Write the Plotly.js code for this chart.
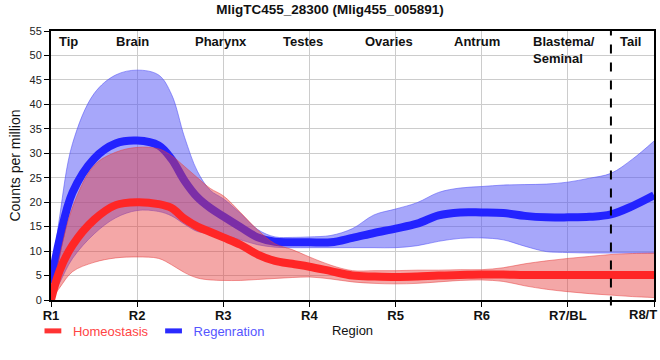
<!DOCTYPE html>
<html>
<head>
<meta charset="utf-8">
<script src="https://cdn.plot.ly/plotly-3.0.1.min.js"></script>
<style>html,body{margin:0;padding:0;background:#fff}#chart{width:660px;height:360px}</style>
</head>
<body>
<div id="chart"></div>
<script>
// Region positions (1 = R1 ... 8 = R8/T)
const xPos = [1, 1.1, 1.25, 1.5, 1.75, 2, 2.25, 2.4, 2.55, 2.7, 2.85, 3, 3.2, 3.4, 3.6, 3.8, 4, 4.25, 4.5, 4.75, 5, 5.25, 5.5, 5.75, 6, 6.25, 6.5, 6.75, 7, 7.25, 7.5, 7.75, 8];
const tickVals = [1, 2, 3, 4, 5, 6, 7, 8];
const tickLabels = ['R1', 'R2', 'R3', 'R4', 'R5', 'R6', 'R7/BL', 'R8/T'];
const regionNames = ['Tip', 'Brain', 'Pharynx', 'Testes', 'Ovaries', 'Antrum', 'Blastema/<br>Seminal', 'Tail'];
const regionLabelPos = [1.2, 1.95, 2.97, 3.93, 4.92, 5.95, 6.95, 7.73];

// Regeneration
const regenMean  = [3.4, 12.5, 22.0, 28.9, 32.0, 32.6, 31.6, 28.8, 24.4, 21.0, 18.8, 17.1, 14.9, 12.8, 11.9, 11.8, 11.8, 11.8, 12.7, 13.7, 14.6, 15.6, 17.3, 17.9, 17.9, 17.8, 17.2, 16.9, 16.9, 17.0, 17.5, 19.2, 21.4];
const regenUpper = [3.5, 17.0, 32.0, 42.2, 46.0, 47.0, 46.0, 42.0, 33.3, 26.3, 22.4, 20.7, 17.7, 14.4, 12.9, 12.8, 12.9, 13.2, 14.6, 17.4, 18.6, 19.9, 22.0, 22.9, 23.2, 23.5, 23.6, 23.7, 24.1, 24.9, 25.9, 28.8, 32.5];
const regenLower = [0.0, 3.5, 8.5, 13.5, 16.8, 18.3, 18.1, 17.2, 15.5, 14.0, 13.6, 13.2, 12.3, 11.3, 10.8, 10.7, 10.7, 10.7, 10.7, 10.7, 10.7, 11.1, 12.0, 12.6, 12.7, 12.3, 11.0, 9.9, 9.7, 9.6, 9.6, 9.6, 9.6];

// Homeostasis
const homeoMean  = [0.0, 6.0, 11.2, 16.4, 19.4, 20.0, 19.6, 18.8, 16.6, 15.0, 13.9, 12.8, 11.3, 9.3, 8.0, 7.4, 6.8, 5.9, 5.0, 4.8, 4.7, 4.8, 5.0, 5.1, 5.2, 5.2, 5.1, 5.1, 5.1, 5.1, 5.1, 5.1, 5.1];
const homeoUpper = [0.0, 9.0, 19.0, 27.5, 30.2, 31.2, 30.9, 29.5, 27.3, 25.0, 22.8, 21.3, 17.9, 14.3, 11.5, 10.3, 8.8, 7.1, 6.0, 6.0, 6.0, 6.1, 6.1, 6.2, 6.2, 6.6, 7.4, 8.0, 8.5, 8.9, 9.3, 9.5, 9.6];
const homeoLower = [0.0, 2.5, 5.8, 7.7, 8.6, 8.8, 8.5, 7.2, 5.6, 4.5, 4.1, 4.0, 4.0, 4.2, 4.4, 4.6, 4.7, 4.3, 3.7, 3.4, 3.3, 3.4, 3.7, 4.0, 4.1, 3.8, 2.9, 2.2, 1.7, 1.3, 1.0, 0.7, 0.5];

const dividerX = 7.5;

const narrow = 'Liberation Sans Narrow, Arial Narrow, Liberation Sans, Arial, sans-serif';
const sans = 'Liberation Sans, Arial, sans-serif';

const blueBand = 'rgba(80,80,245,0.5)';
const redBand = 'rgba(230,60,60,0.45)';
const blueLine = '#2323ff';
const redLine = '#ff2626';

const traces = [
  {x: xPos, y: regenLower, mode: 'lines', line: {color: 'rgba(80,80,245,0.55)', width: 1, shape: 'spline'}, showlegend: false, hoverinfo: 'skip'},
  {x: xPos, y: regenUpper, mode: 'lines', fill: 'tonexty', fillcolor: blueBand, line: {color: 'rgba(80,80,245,0.55)', width: 1, shape: 'spline'}, showlegend: false, hoverinfo: 'skip'},
  {x: xPos, y: regenMean, mode: 'lines', line: {color: blueLine, width: 8, shape: 'spline'}, showlegend: false},
  {x: xPos, y: homeoLower, mode: 'lines', line: {color: 'rgba(230,60,60,0.5)', width: 1, shape: 'spline'}, showlegend: false, hoverinfo: 'skip'},
  {x: xPos, y: homeoUpper, mode: 'lines', fill: 'tonexty', fillcolor: redBand, line: {color: 'rgba(230,60,60,0.5)', width: 1, shape: 'spline'}, showlegend: false, hoverinfo: 'skip'},
  {x: xPos, y: homeoMean, mode: 'lines', line: {color: redLine, width: 8, shape: 'spline'}, showlegend: false},
  // legend entries
  {x: [null], y: [null], mode: 'markers', name: '<span style="color:#ff4444">Homeostasis</span>',
   marker: {symbol: 'line-ew', size: 12, line: {color: '#ff3333', width: 7}}},
  {x: [null], y: [null], mode: 'markers', name: '<span style="color:#5555ff">Regenration</span>',
   marker: {symbol: 'line-ew', size: 12, line: {color: '#2a2aff', width: 7}}}
];

const annotations = regionNames.map((t, i) => ({
  x: regionLabelPos[i], xref: 'x', y: 1, yref: 'paper', yanchor: 'top', yshift: -1,
  text: '<b>' + t + '</b>', showarrow: false, align: 'left',
  font: {family: sans, size: 13, color: '#111'}
}));
// last tick label, kept inside the page edge (right edge of the page)
annotations.push({
  x: 1 + 5 / 603, xref: 'paper', xanchor: 'right', y: 0, yref: 'y', yanchor: 'top', yshift: -5,
  text: '<b>' + tickLabels[7] + '</b>', showarrow: false,
  font: {family: narrow, size: 13, color: '#111'}
});

const layout = {
  width: 660, height: 360,
  margin: {l: 51, r: 6, t: 31, b: 60},
  paper_bgcolor: '#fff', plot_bgcolor: '#fff',
  title: {text: '<b>MligTC455_28300 (Mlig455_005891)</b>', x: 0.5, xref: 'container', y: 0.975, yanchor: 'middle',
          font: {family: narrow, size: 13.5, color: '#111'}},
  xaxis: {
    range: [1, 8], tickvals: tickVals,
    ticktext: tickLabels.map((t, i) => i === 7 ? '' : '<b>' + t + '</b>'),
    showgrid: true, gridcolor: '#cccccc', gridwidth: 1,
    showline: true, linecolor: '#000', linewidth: 2, mirror: true,
    ticks: 'outside', ticklen: 5, tickcolor: '#000', tickwidth: 1,
    ticklabelstandoff: -3,
    tickfont: {family: narrow, size: 13, color: '#111'},
    title: {text: 'Region', font: {family: narrow, size: 13, color: '#111'}, standoff: 4},
    zeroline: false
  },
  yaxis: {
    range: [0, 55], dtick: 5,
    showgrid: true, gridcolor: '#cccccc', gridwidth: 1,
    showline: true, linecolor: '#000', linewidth: 2, mirror: true,
    ticks: 'outside', ticklen: 5, tickcolor: '#000',
    tickfont: {family: sans, size: 11, color: '#222'},
    title: {text: 'Counts per million', font: {family: sans, size: 14, color: '#111'}, standoff: 6},
    zeroline: false
  },
  legend: {orientation: 'h', traceorder: 'normal', x: -0.03, xanchor: 'left', y: -0.115, yanchor: 'middle',
           font: {family: narrow, size: 13}, itemwidth: 30, tracegroupgap: 0, bgcolor: 'rgba(0,0,0,0)'},
  shapes: [{type: 'line', xref: 'x', yref: 'paper', x0: dividerX, x1: dividerX, y0: -0.02, y1: 1,
            line: {color: '#000', width: 2, dash: 'dash'}}],
  annotations: annotations
};

Plotly.newPlot('chart', traces, layout, {displayModeBar: false, staticPlot: true});
</script>
</body>
</html>
